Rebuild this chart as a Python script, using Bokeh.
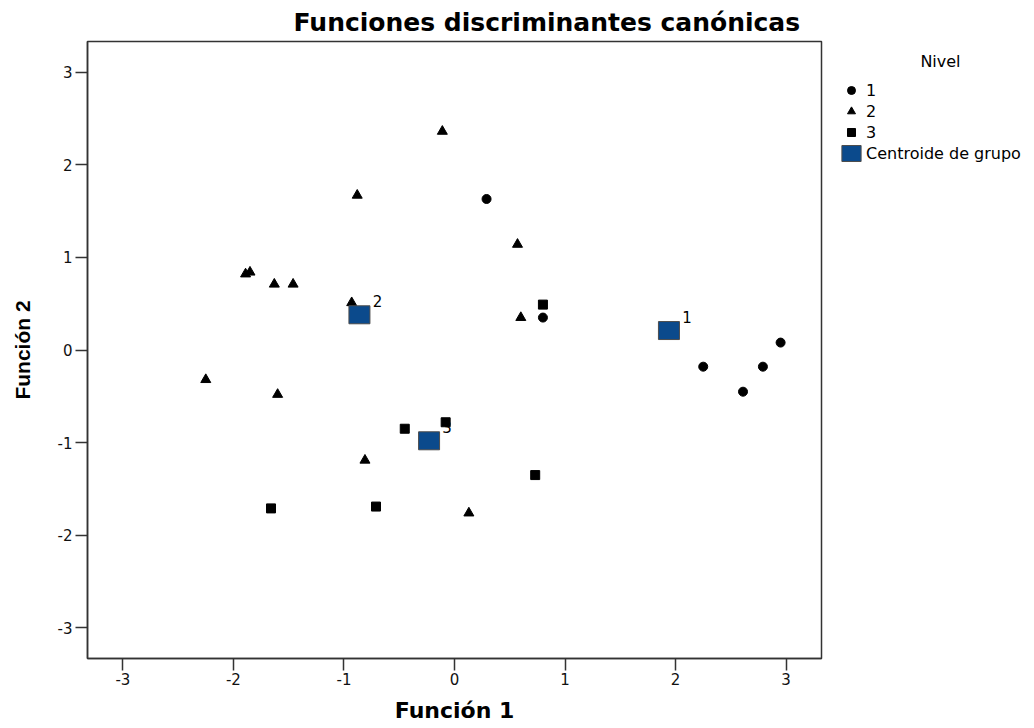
from bokeh.plotting import figure
from bokeh.layouts import row
from bokeh.models import Range1d, ColumnDataSource, Legend, LegendItem, FixedTicker
from bokeh.embed import file_html
from bokeh.resources import INLINE
from bokeh.core.properties import value

# Nivel 1 (circles)
g1_x = [0.29, 0.80, 2.25, 2.61, 2.79, 2.95]
g1_y = [1.63, 0.35, -0.18, -0.45, -0.18, 0.08]
# Nivel 2 (triangles)
g2_x = [-0.11, -0.88, 0.57, -1.89, -1.85, -1.63, -1.46, -0.93, 0.60, -2.25, -1.60, -0.81, 0.13]
g2_y = [2.36, 1.67, 1.14, 0.82, 0.84, 0.71, 0.71, 0.51, 0.35, -0.32, -0.48, -1.19, -1.76]
# Nivel 3 (squares)
g3_x = [0.80, -0.45, -0.08, 0.73, -1.66, -0.71]
g3_y = [0.49, -0.85, -0.78, -1.35, -1.71, -1.69]
# Group centroids
cent_x = [1.94, -0.86, -0.23]
cent_y = [0.21, 0.38, -0.98]
cent_labels = ["1", "2", "3"]
ticks = [-3, -2, -1, 0, 1, 2, 3]
legend_labels = ["1", "2", "3", "Centroide de grupo"]
legend_title = "Nivel"

CENT_FILL = "#0b4a8c"
CENT_LINE = "#4d4d4d"

p = figure(width=823, height=726,
           x_range=Range1d(-3.32, 3.32), y_range=Range1d(-3.33, 3.33),
           output_backend="svg", toolbar_location=None,
           min_border_left=87, min_border_right=2,
           min_border_top=40, min_border_bottom=68)

p.title.text = "Funciones discriminantes canónicas"
p.title.text_font = "DejaVu Sans"
p.title.text_font_style = "bold"
p.title.text_font_size = "25px"
p.title.text_color = "black"
p.title.align = "left"
p.title.offset = 206
p.title.standoff = 10

p.xgrid.visible = False
p.ygrid.visible = False
p.outline_line_color = "#333333"
p.outline_line_width = 1.5
p.background_fill_color = "white"
p.border_fill_color = "white"

for ax in (p.xaxis[0], p.yaxis[0]):
    ax.ticker = FixedTicker(ticks=ticks, minor_ticks=[])
    ax.major_label_overrides = {t: str(t) for t in ticks}
    ax.major_tick_out = 12
    ax.major_tick_in = 0
    ax.minor_tick_out = 0
    ax.minor_tick_in = 0
    ax.major_tick_line_color = "#333333"
    ax.major_tick_line_width = 1.5
    ax.axis_line_color = "#333333"
    ax.axis_line_width = 1.5
    ax.major_label_text_font = "DejaVu Sans"
    ax.major_label_text_font_size = "15px"
    ax.major_label_text_color = "#111111"
    ax.axis_label_text_color = "black"
    ax.axis_label_text_font_style = "bold"

p.xaxis.axis_label = "Función 1"
p.xaxis.axis_label_text_font = "DejaVu Sans"
p.xaxis.axis_label_text_font_size = "22px"
p.xaxis.axis_label_standoff = 10
p.xaxis.major_label_standoff = 2

p.yaxis.axis_label = "Función 2"
p.yaxis.axis_label_text_font = "Liberation Sans"
p.yaxis.axis_label_text_font_size = "21px"
p.yaxis.axis_label_standoff = 21
p.yaxis.major_label_standoff = 3

s1 = ColumnDataSource(dict(x=g1_x, y=g1_y))
s2 = ColumnDataSource(dict(x=g2_x, y=g2_y))
s3 = ColumnDataSource(dict(x=g3_x, y=g3_y))
sc = ColumnDataSource(dict(x=cent_x, y=cent_y, label=cent_labels))

STYLES = [dict(marker="circle", size=9), dict(marker="triangle", size=10),
          dict(marker="square", size=9)]


def draw(fig):
    rs = []
    for src, st in zip([s1, s2, s3], STYLES):
        rs.append(fig.scatter("x", "y", source=src, fill_color="black",
                              line_color="black", **st))
    rs.append(fig.rect("x", "y", source=sc, width=21, height=18,
                       width_units="screen", height_units="screen",
                       fill_color=CENT_FILL, line_color=CENT_LINE, line_width=1))
    return rs


draw(p)
p.text("x", "y", text="label", source=sc, x_offset=18, y_offset=-14,
       text_font=value("DejaVu Sans"), text_font_size="15px",
       text_align="center", text_baseline="middle", text_color="black")

# Legend panel: a companion figure whose own glyphs lie outside its view,
# so only the legend is visible.
leg = figure(width=209, height=726, x_range=Range1d(100, 101), y_range=Range1d(100, 101),
             output_backend="svg", toolbar_location=None,
             x_axis_type=None, y_axis_type=None,
             min_border_left=0, min_border_right=0,
             min_border_top=40, min_border_bottom=68,
             outline_line_color=None)
leg.background_fill_color = "white"
leg.border_fill_color = "white"
leg_renderers = draw(leg)

legend = Legend(items=[LegendItem(label=lab, renderers=[r])
                       for lab, r in zip(legend_labels, leg_renderers)],
                title="\u00a0" * 16 + legend_title,
                title_text_font="DejaVu Sans", title_text_font_size="16px",
                title_text_font_style="normal", title_text_color="black",
                title_standoff=9,
                location=(8, 487), orientation="vertical",
                glyph_width=24, glyph_height=20, label_height=20,
                spacing=1, padding=8, margin=0, label_standoff=3,
                label_text_font="DejaVu Sans", label_text_font_size="16px",
                label_text_color="black",
                background_fill_alpha=0, border_line_alpha=0)
leg.add_layout(legend, "center")

open("out.html", "w").write(file_html(row(p, leg), INLINE))
